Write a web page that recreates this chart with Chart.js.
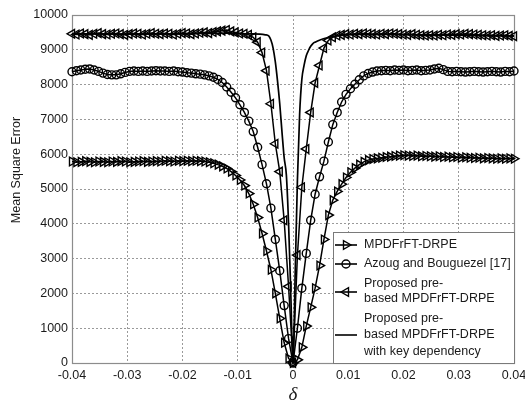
<!DOCTYPE html>
<html>
<head>
<meta charset="utf-8">
<script src="https://cdn.jsdelivr.net/npm/chart.js@4.4.0/dist/chart.umd.min.js"></script>
<style>
  html, body { margin: 0; padding: 0; background: #fff; }
</style>
</head>
<body>
<canvas id="mseChart" width="525" height="411"></canvas>
<script>
// delta grid shared by the three marked curves (step 0.0008)
const deltaSteps = [
  -0.04, -0.0392, -0.0384, -0.0376, -0.0368, -0.036, -0.0352, -0.0344, -0.0336, -0.0328,
  -0.032, -0.0312, -0.0304, -0.0296, -0.0288, -0.028, -0.0272, -0.0264, -0.0256, -0.0248,
  -0.024, -0.0232, -0.0224, -0.0216, -0.0208, -0.02, -0.0192, -0.0184, -0.0176, -0.0168,
  -0.016, -0.0152, -0.0144, -0.0136, -0.0128, -0.012, -0.0112, -0.0104, -0.0096, -0.0088,
  -0.008, -0.0072, -0.0064, -0.0056, -0.0048, -0.004, -0.0032, -0.0024, -0.0016, -0.0008,
  0,
  0.0008, 0.0016, 0.0024, 0.0032, 0.004, 0.0048, 0.0056, 0.0064, 0.0072, 0.008,
  0.0088, 0.0096, 0.0104, 0.0112, 0.012, 0.0128, 0.0136, 0.0144, 0.0152, 0.016,
  0.0168, 0.0176, 0.0184, 0.0192, 0.02, 0.0208, 0.0216, 0.0224, 0.0232, 0.024,
  0.0248, 0.0256, 0.0264, 0.0272, 0.028, 0.0288, 0.0296, 0.0304, 0.0312, 0.032,
  0.0328, 0.0336, 0.0344, 0.0352, 0.036, 0.0368, 0.0376, 0.0384, 0.0392, 0.04
];

const mpdfrftDrpe = [
  5790, 5770, 5780, 5800, 5780, 5770, 5790, 5780, 5770, 5790,
  5780, 5800, 5790, 5770, 5780, 5790, 5800, 5780, 5790, 5800,
  5790, 5810, 5800, 5790, 5810, 5800, 5810, 5800, 5810, 5800,
  5790, 5770, 5740, 5700, 5650, 5590, 5500, 5390, 5260, 5100,
  4870, 4560, 4180, 3720, 3220, 2680, 2000, 1280, 580, 130,
  0,
  90, 450, 1060, 1600, 2150, 2800, 3550, 4250, 4680, 4930,
  5140, 5330, 5480, 5600, 5700, 5780, 5830, 5860, 5880, 5900,
  5920, 5930, 5950, 5960, 5970, 5960, 5950, 5960, 5940, 5950,
  5940, 5930, 5940, 5920, 5930, 5910, 5920, 5900, 5910, 5900,
  5890, 5900, 5880, 5890, 5880, 5870, 5880, 5870, 5880, 5870
];

const azougBouguezel = [
  8370, 8400, 8420, 8440, 8450, 8420, 8380, 8330, 8290, 8280,
  8280, 8310, 8350, 8380, 8390, 8380, 8390, 8380, 8390, 8400,
  8390, 8390, 8380, 8390, 8370, 8360, 8340, 8330, 8310, 8300,
  8280, 8250, 8210, 8150, 8060, 7930, 7780, 7620, 7420, 7200,
  6950, 6650, 6200, 5700, 5150, 4450, 3550, 2650, 1650, 700,
  0,
  1000, 2150, 3150, 4100, 4850, 5350, 5800, 6350, 6850, 7200,
  7500, 7720, 7880, 8010, 8140, 8250, 8320, 8360, 8390, 8400,
  8410, 8400, 8420, 8410, 8420, 8400, 8410, 8420, 8400, 8410,
  8420, 8450, 8470, 8430, 8380, 8370, 8380, 8370, 8360, 8370,
  8380, 8370, 8360, 8370, 8380, 8370, 8360, 8380, 8370, 8390
];

const preBased = [
  9460, 9440, 9470, 9450, 9430, 9460, 9480, 9450, 9440, 9460,
  9470, 9450, 9430, 9450, 9470, 9460, 9440, 9460, 9480, 9460,
  9450, 9470, 9460, 9440, 9460, 9480, 9470, 9450, 9470, 9490,
  9500, 9480, 9510, 9530, 9550, 9570, 9530, 9500, 9470, 9460,
  9430, 9360, 9220, 8920, 8400, 7450, 6300, 5500, 4100, 2200,
  0,
  3100, 5050, 6150, 7200, 8050, 8550, 9050, 9270, 9360, 9410,
  9430, 9450, 9440, 9460, 9450, 9470, 9460, 9450, 9440, 9460,
  9450, 9470, 9460, 9450, 9440, 9430, 9450, 9430, 9420, 9410,
  9420, 9410, 9430, 9420, 9440, 9430, 9450, 9440, 9460, 9450,
  9440, 9430, 9420, 9410, 9420, 9400, 9410, 9420, 9400, 9390
];

// the key-dependency curve has no markers, so it is sampled finer near zero
const keyDelta = [
  -0.04, -0.03, -0.02, -0.012, -0.008, -0.006, -0.005, -0.0044, -0.004, -0.0036,
  -0.0032, -0.0028, -0.0024, -0.002, -0.0016, -0.0012, -0.0008, -0.0004, 0,
  0.0004, 0.0008, 0.0012, 0.0016, 0.002, 0.0024, 0.0028, 0.0032, 0.0036, 0.004,
  0.005, 0.006, 0.008, 0.012, 0.02, 0.03, 0.04
];
const keyDependency = [
  9460, 9450, 9460, 9480, 9460, 9450, 9430, 9400, 9280, 9050,
  8650, 8100, 7450, 6650, 5900, 5400, 4000, 2000, 0,
  2600, 5250, 7150, 8150, 8550, 8830, 8980, 9100, 9180, 9220,
  9290, 9340, 9400, 9440, 9440, 9420, 9400
];

const xTicks = [-0.04, -0.03, -0.02, -0.01, 0, 0.01, 0.02, 0.03, 0.04];
const yTicks = [0, 1000, 2000, 3000, 4000, 5000, 6000, 7000, 8000, 9000, 10000];

const seriesNames = [
  'MPDFrFT-DRPE',
  'Azoug and Bouguezel [17]',
  'Proposed pre-based MPDFrFT-DRPE',
  'Proposed pre-based MPDFrFT-DRPE with key dependency'
];
// how the legend wraps each name
const legendLines = [
  ['MPDFrFT-DRPE'],
  ['Azoug and Bouguezel [17]'],
  ['Proposed pre-', 'based MPDFrFT-DRPE'],
  ['Proposed pre-', 'based MPDFrFT-DRPE', 'with key dependency']
];

const FONT = '"Liberation Sans", Arial, sans-serif';
const TEXT = '#1a1a1a';

function toPoints(xs, ys) {
  return xs.map(function (x, i) { return { x: x, y: ys[i] }; });
}

function markedSet(label, values, style, rotation, radius) {
  return {
    label: label,
    data: toPoints(deltaSteps, values),
    borderColor: '#000',
    borderWidth: 1.5,
    backgroundColor: 'rgba(0,0,0,0)',
    pointStyle: style,
    pointRotation: rotation,
    pointRadius: radius,
    pointHoverRadius: radius,
    pointBorderWidth: 1.4,
    pointBorderColor: '#000',
    pointBackgroundColor: 'rgba(0,0,0,0)',
    tension: 0,
    clip: false
  };
}

// hand-drawn markers for the legend samples
function drawMarker(ctx, style, rotation, r, x, y) {
  ctx.beginPath();
  if (style === 'circle') {
    ctx.arc(x, y, r, 0, Math.PI * 2);
  } else {
    let rad = rotation * Math.PI / 180;
    ctx.moveTo(x + Math.sin(rad) * r, y - Math.cos(rad) * r);
    rad += 2 * Math.PI / 3;
    ctx.lineTo(x + Math.sin(rad) * r, y - Math.cos(rad) * r);
    rad += 2 * Math.PI / 3;
    ctx.lineTo(x + Math.sin(rad) * r, y - Math.cos(rad) * r);
    ctx.closePath();
  }
  ctx.stroke();
}

const frameAndLegend = {
  id: 'frameAndLegend',
  beforeDatasetsDraw: function (chart) {
    const ctx = chart.ctx;
    const a = chart.chartArea;
    ctx.save();
    ctx.strokeStyle = '#8c8c8c';
    ctx.lineWidth = 1.2;
    ctx.strokeRect(Math.round(a.left) + 0.5, Math.round(a.top) + 0.5,
      Math.round(a.right - a.left), Math.round(a.bottom - a.top));
    ctx.restore();
  },
  afterDraw: function (chart) {
    const ctx = chart.ctx;
    const a = chart.chartArea;

    // y axis title
    ctx.save();
    ctx.fillStyle = TEXT;
    ctx.font = '12.5px ' + FONT;
    ctx.textAlign = 'center';
    ctx.textBaseline = 'middle';
    ctx.translate(17, 170);
    ctx.rotate(-Math.PI / 2);
    ctx.fillText('Mean Square Error', 0, 0);
    ctx.restore();

    // legend box in the lower right corner
    const x0 = Math.round(a.right) - 181;
    const y0 = Math.round(a.bottom) - 131;
    ctx.save();
    ctx.fillStyle = '#fff';
    ctx.fillRect(x0, y0, Math.round(a.right) - x0, Math.round(a.bottom) - y0);
    ctx.strokeStyle = '#7a7a7a';
    ctx.lineWidth = 1;
    ctx.strokeRect(x0 + 0.5, y0 + 0.5, Math.round(a.right) - x0, Math.round(a.bottom) - y0);

    const markers = [
      { style: 'triangle', rot: 90, r: 5 },
      { style: 'circle', rot: 0, r: 4 },
      { style: 'triangle', rot: 270, r: 5 },
      null
    ];
    const sampleY = [13, 32, 60, 103];
    const textY = [[13], [32], [52, 67], [87, 103, 120]];

    ctx.font = '12.5px ' + FONT;
    ctx.textBaseline = 'middle';
    ctx.textAlign = 'left';
    for (let i = 0; i < legendLines.length; i++) {
      const sy = y0 + sampleY[i];
      ctx.strokeStyle = '#000';
      ctx.lineWidth = 1.6;
      ctx.beginPath();
      ctx.moveTo(x0 + 2, sy);
      ctx.lineTo(x0 + 24, sy);
      ctx.stroke();
      if (markers[i]) {
        ctx.lineWidth = 1.4;
        drawMarker(ctx, markers[i].style, markers[i].rot, markers[i].r, x0 + 13, sy);
      }
      ctx.fillStyle = TEXT;
      legendLines[i].forEach(function (line, j) {
        ctx.fillText(line, x0 + 31, y0 + textY[i][j]);
      });
    }
    ctx.restore();
  }
};

const ctx = document.getElementById('mseChart');
new Chart(ctx, {
  type: 'line',
  data: {
    datasets: [
      markedSet(seriesNames[0], mpdfrftDrpe, 'triangle', 90, 5),
      markedSet(seriesNames[1], azougBouguezel, 'circle', 0, 4),
      markedSet(seriesNames[2], preBased, 'triangle', 270, 5),
      {
        label: seriesNames[3],
        data: toPoints(keyDelta, keyDependency),
        borderColor: '#000',
        borderWidth: 1.7,
        pointRadius: 0,
        cubicInterpolationMode: 'monotone',
        clip: false
      }
    ]
  },
  options: {
    responsive: false,
    animation: false,
    layout: { padding: { top: 15, right: 11, left: 0, bottom: 0 } },
    plugins: {
      legend: { display: false },
      tooltip: { enabled: false }
    },
    scales: {
      x: {
        type: 'linear',
        min: -0.04,
        max: 0.04,
        afterBuildTicks: function (scale) {
          scale.ticks = xTicks.map(function (v) { return { value: v }; });
        },
        afterFit: function (scale) {
          scale.height = 48;
          // let the last tick label hang over the right padding
          scale.paddingLeft = 0;
          scale.paddingRight = 0;
        },
        ticks: {
          autoSkip: false,
          maxRotation: 0,
          padding: 5,
          color: TEXT,
          font: { family: FONT, size: 12.5 },
          callback: function (v) { return v === 0 ? '0' : v.toFixed(2); }
        },
        grid: { color: '#9a9a9a', lineWidth: 1, drawTicks: false },
        border: { display: false, dash: [2, 2] },
        title: {
          display: true,
          text: 'δ',
          color: TEXT,
          font: { family: '"Liberation Serif", "DejaVu Serif", serif', style: 'italic', size: 19 },
          padding: { top: 0, bottom: 5 }
        }
      },
      y: {
        min: 0,
        max: 10000,
        afterBuildTicks: function (scale) {
          scale.ticks = yTicks.map(function (v) { return { value: v }; });
        },
        afterFit: function (scale) { scale.width = 72; },
        ticks: {
          padding: 4,
          color: TEXT,
          font: { family: FONT, size: 12.5 },
          callback: function (v) { return String(v); }
        },
        grid: { color: '#9a9a9a', lineWidth: 1, drawTicks: false },
        border: { display: false, dash: [2, 2] }
      }
    }
  },
  plugins: [frameAndLegend]
});
</script>
</body>
</html>
